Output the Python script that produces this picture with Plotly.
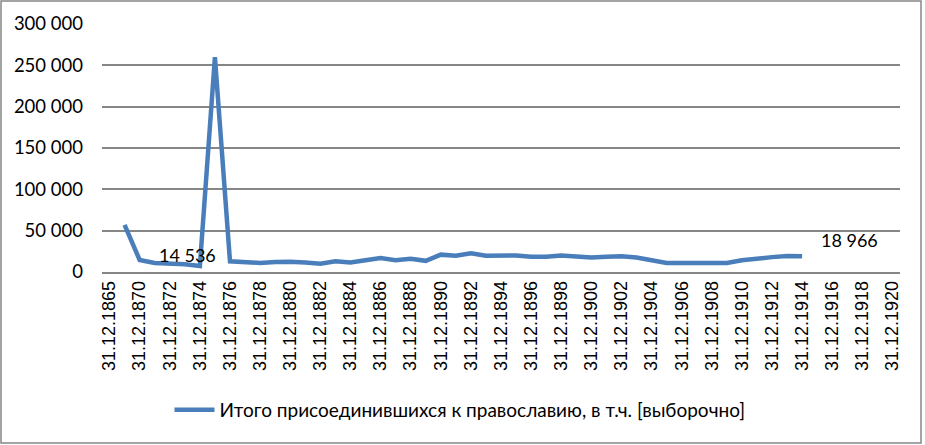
import plotly.graph_objects as go

categories = ["31.12.1865", "31.12.1869"] + [f"31.12.{y}" for y in range(1870, 1921)]

values = [None, 57000,
          14536, 11000, 10500, 9500, 7400, 260000, 13000, 12000, 11000, 12000,
          12500, 11500, 10000, 13000, 11500, 14300, 17000, 14300, 16000, 13500,
          21000, 19600, 22500, 19600, 20000, 20000, 18500, 18500, 20000, 19000,
          17500, 18500, 19000, 17500, 14300, 11000, 11000, 11000, 11000, 11000,
          14300, 16700, 18000, 19300, 18966,
          None, None, None, None, None, None]

series_name = "Итого присоединившихся к православию, в т.ч. [выборочно]"
tick_labels = categories[::2]
label_points = [("31.12.1870", 14536, "14 536", 17, 5), ("31.12.1914", 18966, "18 966", 17, 16)]

L, R, T, B = 102, 900, 24, 272
W, H = 925, 445

def px(x):
    return (x - L) / (R - L)

def py(y):
    return (B - y) / (B - T)

fig = go.Figure()
fig.add_trace(go.Scatter(
    x=categories, y=values, mode="lines", name=series_name,
    line=dict(color="#4A7EBB", width=4.5), connectgaps=False,
    hoverinfo="skip"))

for cat, val, txt, xs, ys in label_points:
    fig.add_annotation(x=cat, y=val, text=txt, showarrow=False,
                       xanchor="left", yanchor="middle", xshift=xs, yshift=ys,
                       font=dict(family="Lato", size=18, color="#000000"))

fig.add_shape(type="rect", xref="paper", yref="paper",
              x0=px(1), x1=px(921), y0=py(443), y1=py(1),
              line=dict(color="#868686", width=1.5), layer="below")

fig.update_layout(
    width=W, height=H,
    margin=dict(l=L, r=W - R, t=T, b=H - B),
    paper_bgcolor="white", plot_bgcolor="white",
    separators=", ",
    showlegend=True,
    legend=dict(orientation="h", x=px(460), xanchor="center", y=py(410), yanchor="middle",
                font=dict(family="Lato", size=19, color="#000000"),
                itemwidth=40),
    xaxis=dict(type="category", categoryorder="array", categoryarray=categories,
               range=[-0.5, len(categories) - 0.5],
               tickmode="array", tickvals=tick_labels, ticktext=tick_labels,
               tickangle=-90, showgrid=False, showline=True, linecolor="#868686",
               linewidth=1.5, ticks="", zeroline=False,
               tickfont=dict(family="Liberation Sans", size=18, color="#000000")),
    yaxis=dict(range=[0, 300000], dtick=50000, tickformat=",d",
               showgrid=True, gridcolor="#868686", gridwidth=1.5,
               zeroline=False, showline=False, ticks="", ticklabelstandoff=18,
               tickfont=dict(family="Lato", size=18.5, color="#000000")),
)

fig.write_html("out.html", config={"displayModeBar": False},
               post_script="document.body.style.margin='0';document.body.style.overflow='hidden';")
